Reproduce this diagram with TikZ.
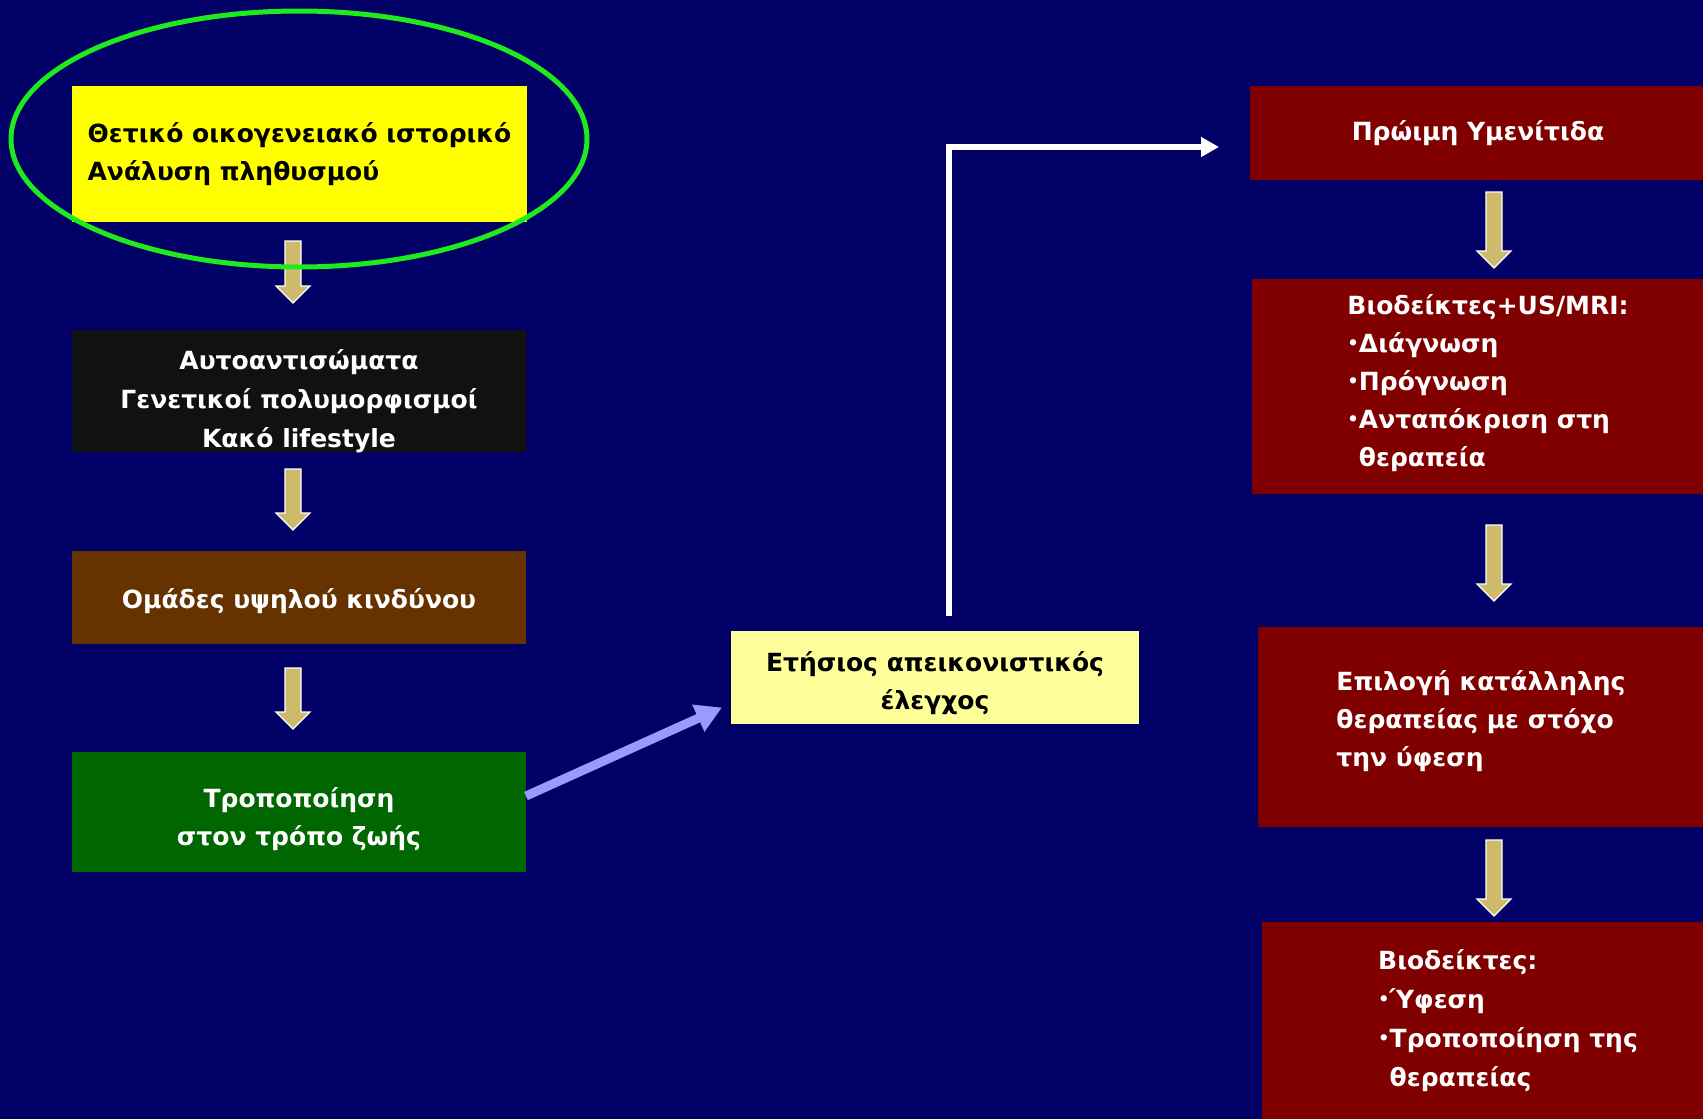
\documentclass[tikz,border=0pt]{standalone}
\usepackage{fontspec}
\setmainfont{DejaVu Sans}
\usetikzlibrary{shapes.geometric,arrows.meta,calc}
\definecolor{bgc}{RGB}{0,0,102}
\definecolor{yelc}{RGB}{255,255,0}
\definecolor{blkc}{RGB}{17,17,17}
\definecolor{brownc}{RGB}{102,51,0}
\definecolor{greenc}{RGB}{0,102,0}
\definecolor{lyelc}{RGB}{255,255,153}
\definecolor{maroonc}{RGB}{128,0,0}
\definecolor{tanc}{RGB}{205,187,107}
\definecolor{lavc}{RGB}{153,153,255}
\definecolor{ellc}{RGB}{30,235,30}
\newcommand{\bul}{\raisebox{3pt}{\fontsize{18}{18}\selectfont•}}
\newcommand{\bulph}{\phantom{\fontsize{18}{18}\selectfont•}}
\begin{document}
\begin{tikzpicture}[x=1pt,y=-1pt,
  font=\fontsize{25}{38}\selectfont\bfseries,
  box/.style={rectangle, inner sep=0pt, outer sep=0pt, anchor=north west, align=center},
  pics/barrow/.style={code={
    \draw[white, line width=1.2pt, fill=tanc, line join=miter]
      (-8,0) -- (8,0) -- (8,#1-17) -- (17,#1-17) -- (0,#1) -- (-17,#1-17) -- (-8,#1-17) -- cycle;}},
  lavarrow/.style={lavc, line width=9pt, -{Triangle[width=28pt,length=26pt]}},
  whitearrow/.style={white, line width=6pt, -{Triangle[width=19pt,length=18pt]}}
]
\useasboundingbox (0,0) rectangle (1703,1119);
\clip (0,0) rectangle (1703,1119);
\fill[bgc] (0,0) rectangle (1703,1119);

% left column
\node[box, fill=yelc, text=black, align=left, minimum width=455pt, minimum height=136pt] (famhist) at (72,86)
  {Θετικό οικογενειακό ιστορικό\\Ανάλυση πληθυσμού};
\node[box, fill=blkc, text=white, minimum width=454pt, minimum height=119pt] (auto) at (72,330)
  {\rule{0pt}{39pt}Αυτοαντισώματα\\[1pt]Γενετικοί πολυμορφισμοί\\[1pt]Κακό lifestyle};
\node[box, fill=brownc, text=white, minimum width=454pt, minimum height=93pt] (risk) at (72,551)
  {\rule{0pt}{27pt}Ομάδες υψηλού κινδύνου};
\node[box, fill=greenc, text=white, minimum width=454pt, minimum height=120pt] (life) at (72,752)
  {\rule{0pt}{35pt}Τροποποίηση\\στον τρόπο ζωής};

\pic at (293,241) {barrow=62};
\pic at (293,469) {barrow=61};
\pic at (293,668) {barrow=61};

\node[draw=ellc, line width=5pt, ellipse, inner sep=0pt, minimum width=576pt, minimum height=256pt] (ell) at (299,139) {};

% middle
\node[box, fill=lyelc, text=black, minimum width=408pt, minimum height=93pt] (exam) at (731,631)
  {\rule{0pt}{32pt}Ετήσιος απεικονιστικός\\έλεγχος};

\draw[lavarrow] ($(life.east)+(0,-16)$) -- ($(exam.west)+(-9,30)$);

% right column
\node[box, fill=maroonc, text=white, minimum width=456pt, minimum height=94pt] (early) at (1250,86)
  {Πρώιμη Υμενίτιδα};
\node[box, fill=maroonc, text=white, align=left, minimum width=472pt, minimum height=215pt] (bio1) at (1252,279)
  {Βιοδείκτες+US/MRI:\\\bul Διάγνωση\\\bul Πρόγνωση\\\bul Ανταπόκριση στη\\\bulph θεραπεία\rule[-13pt]{0pt}{1pt}};
\node[box, fill=maroonc, text=white, align=left, minimum width=446pt, minimum height=200pt] (treat) at (1258,627)
  {Επιλογή κατάλληλης\\θεραπείας με στόχο\\την ύφεση\rule[-18pt]{0pt}{1pt}};
\node[box, fill=maroonc, text=white, align=left, minimum width=492pt, minimum height=197pt] (bio2) at (1262,922)
  {Βιοδείκτες:\\[1pt]\bul Ύφεση\\[1pt]\bul Τροποποίηση της\\[1pt]\bulph θεραπείας};

\pic at (1494,192) {barrow=76};
\pic at (1494,525) {barrow=76};
\pic at (1494,840) {barrow=76};

\coordinate (wstart) at ($(exam.north)+(14,-15)$);
\coordinate (wend) at ($(early.west)+(-31,14)$);
\draw[whitearrow] (wstart) |- (wend);
\end{tikzpicture}
\end{document}
